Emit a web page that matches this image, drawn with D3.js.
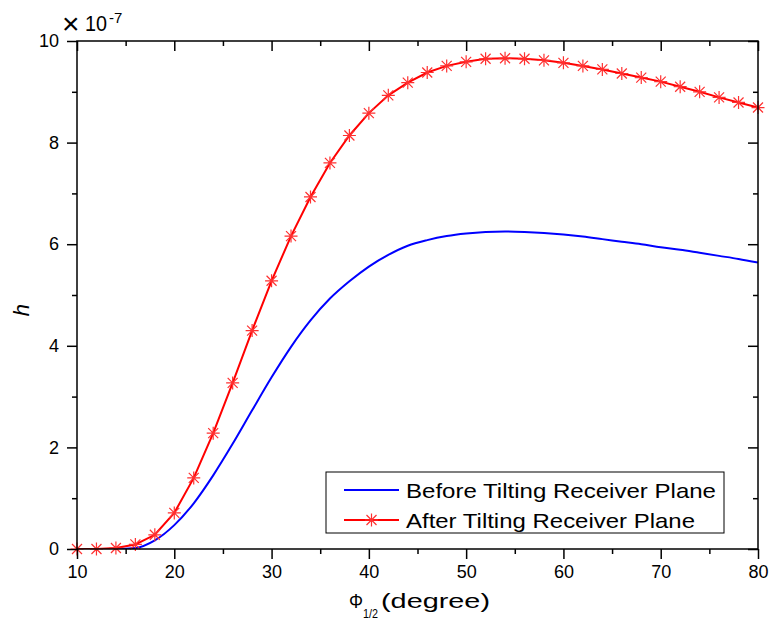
<!DOCTYPE html>
<html>
<head>
<meta charset="utf-8">
<script src="https://cdn.jsdelivr.net/npm/d3@7"></script>
<style>
  body { margin: 0; background: #fff; }
  text { font-family: Arial, 'Liberation Sans', sans-serif; fill: #000; }
</style>
</head>
<body>
<div id="chart"></div>
<script>
// half-power angle, degrees
const angles = [10, 12, 14, 16, 18, 20, 22, 24, 26, 28, 30, 32, 34, 36, 38, 40, 42, 44, 46,
  48, 50, 52, 54, 56, 58, 60, 62, 64, 66, 68, 70, 72, 74, 76, 78, 80]
// h values, x 1e-7
const beforeTilt = [0, 0, 0, 0.02, 0.17, 0.47, 0.9, 1.45, 2.07, 2.73, 3.38, 3.98, 4.5, 4.93, 5.27,
  5.56, 5.79, 5.97, 6.08, 6.16, 6.21, 6.24, 6.25, 6.24, 6.22, 6.19, 6.15, 6.1, 6.05, 6.0,
  5.94, 5.89, 5.83, 5.77, 5.71, 5.64]
const afterTilt = [0, 0, 0.02, 0.09, 0.28, 0.71, 1.4, 2.28, 3.27, 4.3, 5.28, 6.16, 6.93, 7.6,
  8.14, 8.58, 8.93, 9.18, 9.38, 9.51, 9.59, 9.65, 9.66, 9.65, 9.62, 9.57, 9.51, 9.44, 9.36,
  9.28, 9.2, 9.1, 9.0, 8.89, 8.79, 8.69]
const xTicks = [10, 20, 30, 40, 50, 60, 70, 80]
const yTicks = [0, 2, 4, 6, 8, 10]
const legendLabels = ['Before Tilting Receiver Plane', 'After Tilting Receiver Plane']

const width = 770
const height = 632
const margin = { top: 41, right: 12, bottom: 83, left: 77 }
const innerW = width - margin.left - margin.right
const innerH = height - margin.top - margin.bottom

const x = d3.scaleLinear().domain([10, 80]).range([0, innerW])
const y = d3.scaleLinear().domain([0, 10]).range([innerH, 0])

const svg = d3.select('#chart').append('svg')
  .attr('width', width)
  .attr('height', height)

const g = svg.append('g')
  .attr('transform', 'translate(' + margin.left + ',' + margin.top + ')')

// asterisk marker
function star(sel) {
  const r = 6.5, d = 5
  sel.append('path')
    .attr('d', `M0,${-r}V${r}M${-r},0H${r}M${-d},${-d}L${d},${d}M${-d},${d}L${d},${-d}`)
    .attr('stroke', '#ff3030')
    .attr('stroke-width', 1.2)
    .attr('fill', 'none')
}

const line = d3.line().x(d => x(d[0])).y(d => y(d[1]))

const clip = g.append('clipPath').attr('id', 'clip')
clip.append('rect').attr('x', 0).attr('y', -2).attr('width', innerW).attr('height', innerH + 2)

const plot = g.append('g').attr('clip-path', 'url(#clip)')

plot.append('path')
  .datum(angles.map((a, i) => [a, beforeTilt[i]]))
  .attr('d', line.curve(d3.curveMonotoneX))
  .attr('fill', 'none')
  .attr('stroke', '#0000ff')
  .attr('stroke-width', 2)

plot.append('path')
  .datum(angles.map((a, i) => [a, afterTilt[i]]))
  .attr('d', line.curve(d3.curveLinear))
  .attr('fill', 'none')
  .attr('stroke', '#ff0000')
  .attr('stroke-width', 2)

g.append('g').selectAll('g')
  .data(angles.map((a, i) => [a, afterTilt[i]]))
  .join('g')
  .attr('transform', d => 'translate(' + x(d[0]) + ',' + y(d[1]) + ')')
  .call(star)

// axes
const xMinor = d3.range(15, 80, 10)
const yMinor = d3.range(1, 10, 2)

function styleAxis(sel) {
  sel.select('.domain').remove()
  sel.selectAll('line').attr('stroke', '#000').attr('stroke-width', 1.5)
  sel.selectAll('text').attr('font-size', 18)
}

g.append('g')
  .attr('transform', 'translate(0,' + innerH + ')')
  .call(d3.axisBottom(x).tickValues(xTicks).tickSize(10).tickPadding(6).tickFormat(d3.format('d')))
  .call(styleAxis)
g.append('g')
  .attr('transform', 'translate(0,' + innerH + ')')
  .call(d3.axisBottom(x).tickValues(xMinor).tickSize(5).tickFormat(''))
  .call(styleAxis)

g.append('g')
  .call(d3.axisLeft(y).tickValues(yTicks).tickSize(10).tickPadding(8).tickFormat(d3.format('d')))
  .call(styleAxis)
g.append('g')
  .call(d3.axisLeft(y).tickValues(yMinor).tickSize(5).tickFormat(''))
  .call(styleAxis)

// mirrored ticks inside on top and right
g.append('g')
  .call(d3.axisTop(x).tickValues(xTicks).tickSize(-10).tickFormat(''))
  .call(styleAxis)
g.append('g')
  .call(d3.axisTop(x).tickValues(xMinor).tickSize(-5).tickFormat(''))
  .call(styleAxis)
g.append('g')
  .attr('transform', 'translate(' + innerW + ',0)')
  .call(d3.axisRight(y).tickValues(yTicks).tickSize(-10).tickFormat(''))
  .call(styleAxis)
g.append('g')
  .attr('transform', 'translate(' + innerW + ',0)')
  .call(d3.axisRight(y).tickValues(yMinor).tickSize(-5).tickFormat(''))
  .call(styleAxis)

g.append('rect')
  .attr('width', innerW)
  .attr('height', innerH)
  .attr('fill', 'none')
  .attr('stroke', '#000')
  .attr('stroke-width', 1.5)

// multiplier
svg.append('text').attr('x', 62).attr('y', 34).attr('font-size', 30)
  .attr('font-weight', 300).text('\u00d7')
svg.append('text').attr('x', 85).attr('y', 31).attr('font-size', 22)
  .attr('textLength', 22).attr('lengthAdjust', 'spacingAndGlyphs').text('10')
svg.append('text').attr('x', 109).attr('y', 23).attr('font-size', 15).text('-7')

// axis titles
svg.append('text')
  .attr('transform', 'translate(29,310) rotate(-90)')
  .attr('text-anchor', 'middle')
  .attr('font-size', 22)
  .attr('font-style', 'italic')
  .text('h')

svg.append('text').attr('x', 349).attr('y', 608).attr('font-size', 21)
  .attr('textLength', 14).attr('lengthAdjust', 'spacingAndGlyphs').text('\u03a6')
svg.append('text').attr('x', 363).attr('y', 618).attr('font-size', 13)
  .attr('textLength', 15).attr('lengthAdjust', 'spacingAndGlyphs').text('1/2')
svg.append('text').attr('x', 381).attr('y', 608).attr('font-size', 20)
  .attr('textLength', 109).attr('lengthAdjust', 'spacingAndGlyphs').text('(degree)')

// legend
const lg = g.append('g').attr('transform', 'translate(' + (326 - margin.left) + ',' + (472 - margin.top) + ')')
lg.append('rect')
  .attr('width', 398)
  .attr('height', 61)
  .attr('fill', '#fff')
  .attr('stroke', '#000')
  .attr('stroke-width', 1)

const colors = ['#0000ff', '#ff0000']
const legendLens = [310, 289]
legendLabels.forEach((label, i) => {
  const row = lg.append('g').attr('transform', 'translate(0,' + (18 + i * 30) + ')')
  row.append('line')
    .attr('x1', 18).attr('x2', 73)
    .attr('stroke', colors[i])
    .attr('stroke-width', 2)
  if (i === 1) row.append('g').attr('transform', 'translate(45.5,0)').call(star)
  row.append('text')
    .attr('x', 80)
    .attr('dy', '0.36em')
    .attr('font-size', 21)
    .attr('textLength', legendLens[i])
    .attr('lengthAdjust', 'spacingAndGlyphs')
    .text(label)
})
</script>
</body>
</html>
